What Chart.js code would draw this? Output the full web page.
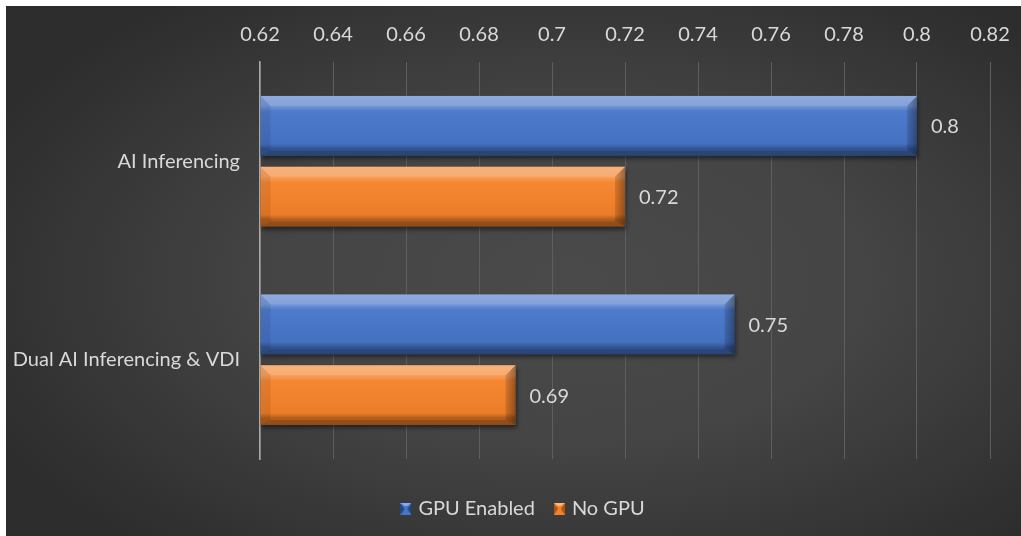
<!DOCTYPE html>
<html><head><meta charset="utf-8">
<script src="https://cdn.jsdelivr.net/npm/chart.js@4.4.1/dist/chart.umd.min.js"></script>
<style>html,body{margin:0;padding:0;background:#fff;overflow:hidden}#wrap{width:1021px;height:536px;position:relative}</style>
</head><body><div id="wrap"><canvas id="c"></canvas></div>
<script>
// ---- data ----
const categories = ['AI Inferencing', 'Dual AI Inferencing & VDI'];
const seriesNames = ['GPU Enabled', 'No GPU'];
const gpuEnabled = [0.8, 0.75];
const noGpu = [0.72, 0.69];
const xMin = 0.62;
const xMax = 0.82;
const xStep = 0.02;

// ---- styles ----
const FONT = 'Lato, "Open Sans", sans-serif';
const FSIZE = 20;
const TEXT = '#d9d9d9';
const palettes = [
  {light: '#86aaee', base: '#4775c9', dark: '#25467f'},
  {light: '#fdb77f', base: '#f5822a', dark: '#a9561a'}
];

function legendIcon(pal) {
  const c = document.createElement('canvas');
  c.width = 11; c.height = 12;
  const x = c.getContext('2d');
  x.fillStyle = pal.base; x.fillRect(0, 0, 11, 12);
  x.fillStyle = pal.dark;
  x.beginPath(); x.moveTo(0, 0); x.lineTo(4, 6); x.lineTo(0, 12); x.fill();
  x.beginPath(); x.moveTo(11, 0); x.lineTo(7, 6); x.lineTo(11, 12); x.fill();
  x.fillStyle = pal.light;
  x.beginPath(); x.moveTo(0, 0); x.lineTo(11, 0); x.lineTo(7, 3); x.lineTo(4, 3); x.fill();
  return c;
}
const icons = palettes.map(legendIcon);

const bgPlugin = {
  id: 'bg',
  beforeDraw(chart) {
    const ctx = chart.ctx, W = chart.width, H = chart.height;
    ctx.save();
    ctx.fillStyle = '#ffffff';
    ctx.fillRect(0, 0, W, H);
    const cx = 570, cy = 280, sy = 0.55;
    ctx.translate(cx, cy);
    ctx.scale(1, sy);
    const g = ctx.createRadialGradient(0, 0, 0, 0, 0, 640);
    g.addColorStop(0, '#4a4a4a');
    g.addColorStop(0.45, '#454545');
    g.addColorStop(1, '#2d2d2d');
    ctx.fillStyle = g;
    ctx.fillRect(6 - cx, (6 - cy) / sy, W - 6, (H - 6) / sy);
    ctx.restore();
  }
};

const legendShift = {
  id: 'legendShift',
  afterLayout(chart) {
    const lg = chart.legend;
    if (lg) { lg.left += 29; lg.right += 29; }
  }
};

const bevelPlugin = {
  id: 'bevel',
  beforeDatasetsDraw(chart) {
    const ctx = chart.ctx;
    ctx.save();
    ctx.shadowColor = 'rgba(0,0,0,0.45)';
    ctx.shadowBlur = 4;
    ctx.shadowOffsetX = 1;
    ctx.shadowOffsetY = 3;
  },
  afterDatasetsDraw(chart) {
    const ctx = chart.ctx;
    ctx.restore();
    chart.data.datasets.forEach((ds, di) => {
      chart.getDatasetMeta(di).data.forEach((el, i) => {
        const h = el.height, T = el.y - h / 2, B = el.y + h / 2;
        const L = Math.max(el.base, chart.chartArea.left), R = el.x;
        const b = 10;
        ctx.save();
        const g = ctx.createLinearGradient(0, T, 0, B);
        g.addColorStop(0, 'rgba(255,255,255,0.32)');
        g.addColorStop(0.16, 'rgba(255,255,255,0.26)');
        g.addColorStop(0.26, 'rgba(255,255,255,0.04)');
        g.addColorStop(0.8, 'rgba(0,0,0,0.04)');
        g.addColorStop(0.88, 'rgba(0,0,0,0.28)');
        g.addColorStop(1, 'rgba(0,0,0,0.32)');
        ctx.fillStyle = g;
        ctx.fillRect(L, T, R - L, h);
        ctx.fillStyle = 'rgba(255,255,255,0.10)';
        ctx.beginPath(); ctx.moveTo(L, T); ctx.lineTo(R, T); ctx.lineTo(R - b, T + b); ctx.lineTo(L + b, T + b); ctx.closePath(); ctx.fill();
        ctx.fillStyle = 'rgba(0,0,0,0.14)';
        ctx.beginPath(); ctx.moveTo(L, B); ctx.lineTo(R, B); ctx.lineTo(R - b, B - 5); ctx.lineTo(L + b, B - 5); ctx.closePath(); ctx.fill();
        const gr = ctx.createLinearGradient(R - b, 0, R, 0);
        gr.addColorStop(0, 'rgba(0,0,0,0.12)');
        gr.addColorStop(1, 'rgba(0,0,0,0.38)');
        ctx.fillStyle = gr;
        ctx.beginPath(); ctx.moveTo(R, T); ctx.lineTo(R, B); ctx.lineTo(R - b, B - 5); ctx.lineTo(R - b, T + b); ctx.closePath(); ctx.fill();
        ctx.fillStyle = 'rgba(0,0,0,0.08)';
        ctx.beginPath(); ctx.moveTo(L, T); ctx.lineTo(L, B); ctx.lineTo(L + b, B - 5); ctx.lineTo(L + b, T + b); ctx.closePath(); ctx.fill();
        ctx.fillStyle = TEXT;
        ctx.font = FSIZE + 'px ' + FONT;
        ctx.textAlign = 'left';
        ctx.textBaseline = 'middle';
        ctx.fillText(String(ds.data[i]), R + 14, el.y + 1);
        ctx.restore();
      });
    });
  }
};

new Chart(document.getElementById('c'), {
  type: 'bar',
  data: {
    labels: categories,
    datasets: [gpuEnabled, noGpu].map((vals, di) => ({
      label: seriesNames[di],
      data: vals,
      base: xMin,
      backgroundColor: palettes[di].base,
      borderWidth: 0,
      categoryPercentage: 0.714,
      barPercentage: 0.845,
      pointStyle: icons[di]
    }))
  },
  options: {
    indexAxis: 'y',
    responsive: true,
    maintainAspectRatio: false,
    animation: false,
    devicePixelRatio: 1,
    layout: {autoPadding: false, padding: {left: 0, right: 31, top: 0, bottom: 7}},
    scales: {
      x: {
        position: 'top',
        min: xMin, max: xMax,
        afterFit(s) { s.height = 62; s.paddingLeft = 0; s.paddingRight = 0; },
        ticks: {
          stepSize: xStep,
          color: TEXT,
          font: {family: FONT, size: FSIZE},
          padding: 15,
          callback: (v) => String(+(+v).toFixed(2))
        },
        grid: {color: '#5e5e5e', lineWidth: 1, drawTicks: false},
        border: {display: false}
      },
      y: {
        afterFit(s) { s.width = 260; },
        ticks: {color: TEXT, font: {family: FONT, size: FSIZE}, padding: 20},
        grid: {display: false, drawTicks: false},
        border: {display: true, color: '#a9a9a9', width: 1.5}
      }
    },
    plugins: {
      tooltip: {enabled: false},
      legend: {
        position: 'bottom',
        title: {display: true, text: '', font: {size: 10}, padding: {top: 0, bottom: 6}},
        labels: {
          color: TEXT,
          font: {family: FONT, size: FSIZE},
          usePointStyle: true,
          pointStyleWidth: 5,
          boxWidth: 11, boxHeight: 12,
          padding: 22
        }
      }
    }
  },
  plugins: [bgPlugin, legendShift, bevelPlugin]
});
</script>
</body></html>
